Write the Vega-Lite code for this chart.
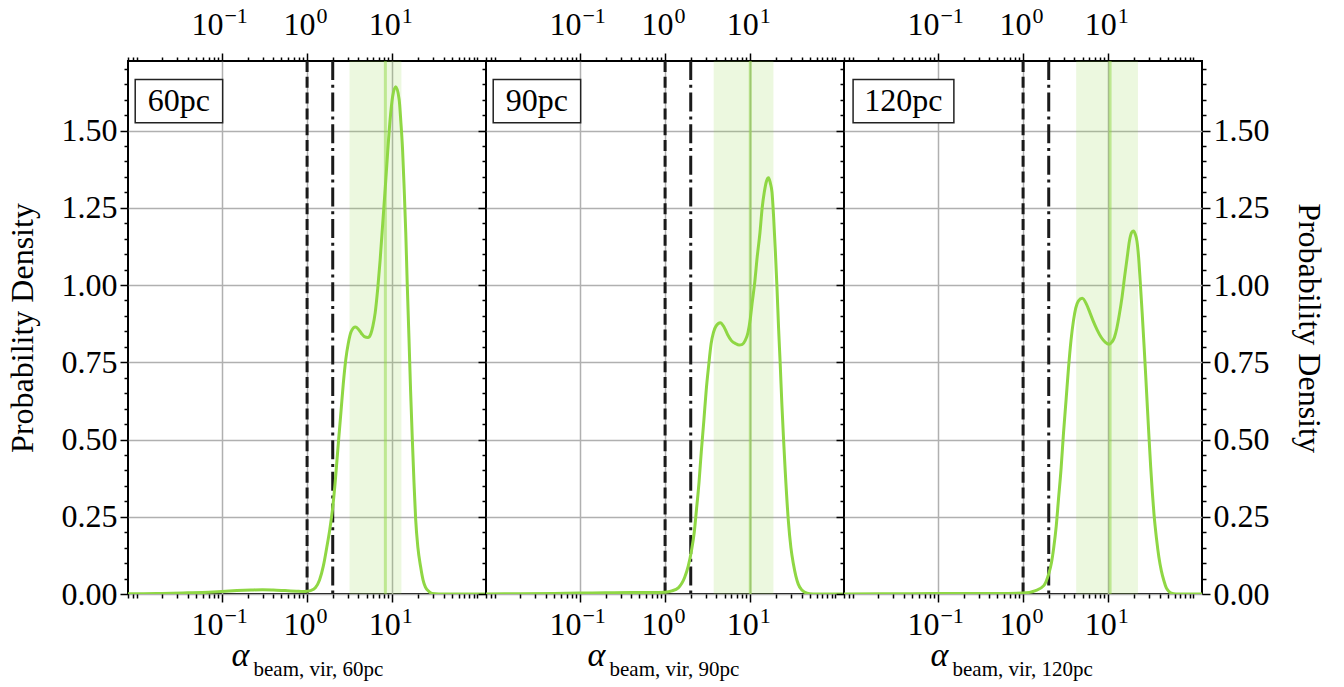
{
  "$schema": "https://vega.github.io/schema/vega-lite/v6.json",
  "padding": {"left": 5, "top": 3, "right": 6, "bottom": 4},
  "background": "white",
  "datasets": {
    "curves": [
      {"panel": "60pc", "alpha": 0.0079, "density": 0.0005},
      {"panel": "60pc", "alpha": 0.012, "density": 0.001},
      {"panel": "60pc", "alpha": 0.02, "density": 0.002},
      {"panel": "60pc", "alpha": 0.04, "density": 0.004},
      {"panel": "60pc", "alpha": 0.07, "density": 0.006},
      {"panel": "60pc", "alpha": 0.1, "density": 0.008},
      {"panel": "60pc", "alpha": 0.15, "density": 0.011},
      {"panel": "60pc", "alpha": 0.22, "density": 0.013},
      {"panel": "60pc", "alpha": 0.3, "density": 0.014},
      {"panel": "60pc", "alpha": 0.4, "density": 0.013},
      {"panel": "60pc", "alpha": 0.55, "density": 0.011},
      {"panel": "60pc", "alpha": 0.75, "density": 0.009},
      {"panel": "60pc", "alpha": 0.9, "density": 0.008},
      {"panel": "60pc", "alpha": 1.0, "density": 0.009},
      {"panel": "60pc", "alpha": 1.1, "density": 0.011},
      {"panel": "60pc", "alpha": 1.25, "density": 0.02},
      {"panel": "60pc", "alpha": 1.4, "density": 0.045},
      {"panel": "60pc", "alpha": 1.55, "density": 0.09},
      {"panel": "60pc", "alpha": 1.7, "density": 0.15},
      {"panel": "60pc", "alpha": 1.85, "density": 0.21},
      {"panel": "60pc", "alpha": 2.0, "density": 0.28},
      {"panel": "60pc", "alpha": 2.15, "density": 0.37},
      {"panel": "60pc", "alpha": 2.33, "density": 0.49},
      {"panel": "60pc", "alpha": 2.5, "density": 0.59},
      {"panel": "60pc", "alpha": 2.66, "density": 0.68},
      {"panel": "60pc", "alpha": 2.85, "density": 0.76},
      {"panel": "60pc", "alpha": 3.04, "density": 0.81},
      {"panel": "60pc", "alpha": 3.3, "density": 0.85},
      {"panel": "60pc", "alpha": 3.69, "density": 0.864},
      {"panel": "60pc", "alpha": 4.0, "density": 0.857},
      {"panel": "60pc", "alpha": 4.33, "density": 0.844},
      {"panel": "60pc", "alpha": 4.7, "density": 0.833},
      {"panel": "60pc", "alpha": 5.18, "density": 0.83},
      {"panel": "60pc", "alpha": 5.6, "density": 0.842},
      {"panel": "60pc", "alpha": 5.92, "density": 0.867},
      {"panel": "60pc", "alpha": 6.3, "density": 0.91},
      {"panel": "60pc", "alpha": 6.76, "density": 0.99},
      {"panel": "60pc", "alpha": 7.2, "density": 1.08},
      {"panel": "60pc", "alpha": 7.73, "density": 1.2},
      {"panel": "60pc", "alpha": 8.3, "density": 1.32},
      {"panel": "60pc", "alpha": 8.83, "density": 1.43},
      {"panel": "60pc", "alpha": 9.4, "density": 1.53},
      {"panel": "60pc", "alpha": 10.1, "density": 1.61},
      {"panel": "60pc", "alpha": 11.0, "density": 1.642},
      {"panel": "60pc", "alpha": 12.05, "density": 1.6},
      {"panel": "60pc", "alpha": 12.6, "density": 1.53},
      {"panel": "60pc", "alpha": 13.2, "density": 1.44},
      {"panel": "60pc", "alpha": 13.8, "density": 1.31},
      {"panel": "60pc", "alpha": 14.4, "density": 1.17},
      {"panel": "60pc", "alpha": 15.0, "density": 1.0},
      {"panel": "60pc", "alpha": 15.7, "density": 0.83},
      {"panel": "60pc", "alpha": 16.4, "density": 0.66},
      {"panel": "60pc", "alpha": 17.2, "density": 0.5},
      {"panel": "60pc", "alpha": 18.0, "density": 0.36},
      {"panel": "60pc", "alpha": 18.8, "density": 0.244},
      {"panel": "60pc", "alpha": 20.0, "density": 0.15},
      {"panel": "60pc", "alpha": 21.5, "density": 0.089},
      {"panel": "60pc", "alpha": 23.0, "density": 0.045},
      {"panel": "60pc", "alpha": 24.5, "density": 0.022},
      {"panel": "60pc", "alpha": 27.0, "density": 0.008},
      {"panel": "60pc", "alpha": 29.3, "density": 0.002},
      {"panel": "60pc", "alpha": 35.0, "density": 0.0003},
      {"panel": "60pc", "alpha": 50.0, "density": 0},
      {"panel": "60pc", "alpha": 126.0, "density": 0},

      {"panel": "90pc", "alpha": 0.0079, "density": 0.0003},
      {"panel": "90pc", "alpha": 0.02, "density": 0.001},
      {"panel": "90pc", "alpha": 0.05, "density": 0.002},
      {"panel": "90pc", "alpha": 0.1, "density": 0.003},
      {"panel": "90pc", "alpha": 0.2, "density": 0.004},
      {"panel": "90pc", "alpha": 0.4, "density": 0.005},
      {"panel": "90pc", "alpha": 0.7, "density": 0.005},
      {"panel": "90pc", "alpha": 1.0, "density": 0.006},
      {"panel": "90pc", "alpha": 1.2, "density": 0.01},
      {"panel": "90pc", "alpha": 1.43, "density": 0.02},
      {"panel": "90pc", "alpha": 1.7, "density": 0.054},
      {"panel": "90pc", "alpha": 1.87, "density": 0.09},
      {"panel": "90pc", "alpha": 2.04, "density": 0.14},
      {"panel": "90pc", "alpha": 2.2, "density": 0.2},
      {"panel": "90pc", "alpha": 2.33, "density": 0.27},
      {"panel": "90pc", "alpha": 2.5, "density": 0.36},
      {"panel": "90pc", "alpha": 2.66, "density": 0.46},
      {"panel": "90pc", "alpha": 2.85, "density": 0.56},
      {"panel": "90pc", "alpha": 3.04, "density": 0.66},
      {"panel": "90pc", "alpha": 3.25, "density": 0.74},
      {"panel": "90pc", "alpha": 3.47, "density": 0.81},
      {"panel": "90pc", "alpha": 3.7, "density": 0.847},
      {"panel": "90pc", "alpha": 3.96, "density": 0.867},
      {"panel": "90pc", "alpha": 4.45, "density": 0.878},
      {"panel": "90pc", "alpha": 4.9, "density": 0.865},
      {"panel": "90pc", "alpha": 5.41, "density": 0.84},
      {"panel": "90pc", "alpha": 6.0, "density": 0.82},
      {"panel": "90pc", "alpha": 6.76, "density": 0.81},
      {"panel": "90pc", "alpha": 7.4, "density": 0.806},
      {"panel": "90pc", "alpha": 8.08, "density": 0.808},
      {"panel": "90pc", "alpha": 8.7, "density": 0.82},
      {"panel": "90pc", "alpha": 9.4, "density": 0.846},
      {"panel": "90pc", "alpha": 10.0, "density": 0.89},
      {"panel": "90pc", "alpha": 10.5, "density": 0.94},
      {"panel": "90pc", "alpha": 11.3, "density": 1.01},
      {"panel": "90pc", "alpha": 12.05, "density": 1.09},
      {"panel": "90pc", "alpha": 13.0, "density": 1.17},
      {"panel": "90pc", "alpha": 13.8, "density": 1.25},
      {"panel": "90pc", "alpha": 14.6, "density": 1.3},
      {"panel": "90pc", "alpha": 15.5, "density": 1.336},
      {"panel": "90pc", "alpha": 16.4, "density": 1.347},
      {"panel": "90pc", "alpha": 17.2, "density": 1.33},
      {"panel": "90pc", "alpha": 18.0, "density": 1.3},
      {"panel": "90pc", "alpha": 18.8, "density": 1.22},
      {"panel": "90pc", "alpha": 19.7, "density": 1.11},
      {"panel": "90pc", "alpha": 20.6, "density": 0.99},
      {"panel": "90pc", "alpha": 21.5, "density": 0.86},
      {"panel": "90pc", "alpha": 22.5, "density": 0.74},
      {"panel": "90pc", "alpha": 23.5, "density": 0.614},
      {"panel": "90pc", "alpha": 24.6, "density": 0.5},
      {"panel": "90pc", "alpha": 25.7, "density": 0.4},
      {"panel": "90pc", "alpha": 28.0, "density": 0.237},
      {"panel": "90pc", "alpha": 30.0, "density": 0.15},
      {"panel": "90pc", "alpha": 32.1, "density": 0.097},
      {"panel": "90pc", "alpha": 34.3, "density": 0.058},
      {"panel": "90pc", "alpha": 36.6, "density": 0.032},
      {"panel": "90pc", "alpha": 40.0, "density": 0.014},
      {"panel": "90pc", "alpha": 43.8, "density": 0.005},
      {"panel": "90pc", "alpha": 50.0, "density": 0.001},
      {"panel": "90pc", "alpha": 60.0, "density": 0},
      {"panel": "90pc", "alpha": 126.0, "density": 0},

      {"panel": "120pc", "alpha": 0.0079, "density": 0.0003},
      {"panel": "120pc", "alpha": 0.05, "density": 0.001},
      {"panel": "120pc", "alpha": 0.2, "density": 0.002},
      {"panel": "120pc", "alpha": 0.5, "density": 0.002},
      {"panel": "120pc", "alpha": 1.0, "density": 0.003},
      {"panel": "120pc", "alpha": 1.4, "density": 0.011},
      {"panel": "120pc", "alpha": 1.75, "density": 0.027},
      {"panel": "120pc", "alpha": 2.0, "density": 0.065},
      {"panel": "120pc", "alpha": 2.15, "density": 0.1},
      {"panel": "120pc", "alpha": 2.29, "density": 0.15},
      {"panel": "120pc", "alpha": 2.45, "density": 0.22},
      {"panel": "120pc", "alpha": 2.61, "density": 0.31},
      {"panel": "120pc", "alpha": 2.8, "density": 0.41},
      {"panel": "120pc", "alpha": 2.98, "density": 0.52},
      {"panel": "120pc", "alpha": 3.2, "density": 0.63},
      {"panel": "120pc", "alpha": 3.41, "density": 0.73},
      {"panel": "120pc", "alpha": 3.65, "density": 0.82},
      {"panel": "120pc", "alpha": 3.9, "density": 0.884},
      {"panel": "120pc", "alpha": 4.15, "density": 0.925},
      {"panel": "120pc", "alpha": 4.45, "density": 0.948},
      {"panel": "120pc", "alpha": 4.95, "density": 0.957},
      {"panel": "120pc", "alpha": 5.56, "density": 0.9375},
      {"panel": "120pc", "alpha": 6.1, "density": 0.91},
      {"panel": "120pc", "alpha": 6.64, "density": 0.884},
      {"panel": "120pc", "alpha": 7.4, "density": 0.855},
      {"panel": "120pc", "alpha": 8.29, "density": 0.83},
      {"panel": "120pc", "alpha": 9.2, "density": 0.815},
      {"panel": "120pc", "alpha": 10.2, "density": 0.808},
      {"panel": "120pc", "alpha": 11.0, "density": 0.815},
      {"panel": "120pc", "alpha": 11.8, "density": 0.83},
      {"panel": "120pc", "alpha": 12.6, "density": 0.86},
      {"panel": "120pc", "alpha": 13.5, "density": 0.905},
      {"panel": "120pc", "alpha": 14.5, "density": 0.96},
      {"panel": "120pc", "alpha": 15.5, "density": 1.024},
      {"panel": "120pc", "alpha": 16.6, "density": 1.085},
      {"panel": "120pc", "alpha": 17.7, "density": 1.142},
      {"panel": "120pc", "alpha": 18.8, "density": 1.17},
      {"panel": "120pc", "alpha": 19.8, "density": 1.175},
      {"panel": "120pc", "alpha": 20.7, "density": 1.165},
      {"panel": "120pc", "alpha": 21.7, "density": 1.142},
      {"panel": "120pc", "alpha": 22.7, "density": 1.09},
      {"panel": "120pc", "alpha": 23.7, "density": 1.013},
      {"panel": "120pc", "alpha": 25.0, "density": 0.91},
      {"panel": "120pc", "alpha": 26.4, "density": 0.797},
      {"panel": "120pc", "alpha": 27.6, "density": 0.7},
      {"panel": "120pc", "alpha": 28.8, "density": 0.603},
      {"panel": "120pc", "alpha": 30.1, "density": 0.505},
      {"panel": "120pc", "alpha": 31.5, "density": 0.41},
      {"panel": "120pc", "alpha": 32.9, "density": 0.33},
      {"panel": "120pc", "alpha": 34.4, "density": 0.259},
      {"panel": "120pc", "alpha": 36.8, "density": 0.18},
      {"panel": "120pc", "alpha": 39.3, "density": 0.119},
      {"panel": "120pc", "alpha": 42.0, "density": 0.075},
      {"panel": "120pc", "alpha": 45.0, "density": 0.043},
      {"panel": "120pc", "alpha": 48.0, "density": 0.02},
      {"panel": "120pc", "alpha": 51.3, "density": 0.009},
      {"panel": "120pc", "alpha": 55.0, "density": 0.003},
      {"panel": "120pc", "alpha": 62.0, "density": 0},
      {"panel": "120pc", "alpha": 126.0, "density": 0}
    ],
    "bands": [
      {"panel": "60pc", "lo": 3.15, "hi": 12.8, "med": 8.3},
      {"panel": "90pc", "lo": 3.72, "hi": 18.7, "med": 10.0},
      {"panel": "120pc", "lo": 4.2, "hi": 22.3, "med": 10.5}
    ],
    "refs": [
      {"kind": "dashed", "value": 1},
      {"kind": "dashdot", "value": 2}
    ],
    "labels": [
      {"panel": "60pc", "label": "60pc"},
      {"panel": "90pc", "label": "90pc"},
      {"panel": "120pc", "label": "120pc"}
    ]
  },
  "spacing": 0,
  "bounds": "flush",
  "hconcat": [
    {
      "width": 358, "height": 533,
      "resolve": {"axis": {"x": "independent", "y": "independent"}},
      "layer": [
        {
          "data": {"name": "bands"},
          "transform": [{"filter": "datum.panel == '60pc'"}],
          "mark": {"type": "rect", "fill": "#8fd744", "opacity": 0.17, "clip": true},
          "encoding": {
            "x": {"field": "lo", "type": "quantitative", "scale": {"type": "log", "domain": [0.0079, 126], "nice": false},
              "axis": {"orient": "bottom", "values": [0.1, 1, 10], "grid": true, "labelExpr": "'10'", "labelAlign": "right", "labelBaseline": "alphabetic", "labelPadding": 32, "labelOffset": {"condition": {"test": "datum.value < 0.5", "value": 1}, "value": 8}, "title": "α", "titleFontStyle": "italic", "titleFontSize": 34, "titleAlign": "center", "titleBaseline": "alphabetic", "titleX": 112, "titleY": 71}},
            "x2": {"field": "hi"},
            "y": {"datum": 0, "type": "quantitative", "scale": {"domain": [0, 1.725], "nice": false},
              "axis": {"orient": "left", "values": [0.05,0.1,0.15,0.2,0.3,0.35,0.4,0.45,0.55,0.6,0.65,0.7,0.8,0.85,0.9,0.95,1.05,1.1,1.15,1.2,1.3,1.35,1.4,1.45,1.55,1.6,1.65,1.7], "labels": false, "grid": false, "tickSize": 4, "title": null}},
            "y2": {"datum": 1.725}
          }
        },
        {
          "data": {"name": "bands"},
          "transform": [{"filter": "datum.panel == '60pc'"}],
          "mark": {"type": "rule", "color": "#8fd744", "opacity": 0.5, "strokeWidth": 3},
          "encoding": {
            "x": {"field": "med", "type": "quantitative", "scale": {"type": "log", "domain": [0.0079, 126], "nice": false},
              "axis": {"orient": "bottom", "values": [0.008,0.009,0.01,0.02,0.03,0.04,0.05,0.06,0.07,0.08,0.09,0.2,0.3,0.4,0.5,0.6,0.7,0.8,0.9,2,3,4,5,6,7,8,9,20,30,40,50,60,70,80,90,100], "labels": false, "grid": false, "tickSize": 4, "title": "beam, vir, 60pc", "titleFontSize": 21, "titleAlign": "left", "titleBaseline": "alphabetic", "titleX": 125, "titleY": 81}}
          }
        },
        {
          "data": {"name": "refs"},
          "mark": {"type": "rule", "color": "#1a1a1a", "strokeWidth": 3},
          "encoding": {
            "x": {"field": "value", "type": "quantitative", "scale": {"type": "log", "domain": [0.0079, 126], "nice": false},
              "axis": {"orient": "top", "values": [0.1, 1, 10], "grid": false, "labelExpr": "'10'", "labelAlign": "right", "labelBaseline": "alphabetic", "labelPadding": 19, "labelOffset": {"condition": {"test": "datum.value < 0.5", "value": 1}, "value": 8}, "title": null}},
            "strokeDash": {"field": "kind", "type": "nominal", "scale": {"domain": ["dashed", "dashdot"], "range": [[11, 4.8], [19, 4.8, 3, 4.8]]}, "legend": null}
          }
        },
        {
          "data": {"name": "curves"},
          "transform": [{"filter": "datum.panel == '60pc'"}],
          "mark": {"type": "line", "color": "#8fd744", "strokeWidth": 3, "interpolate": "monotone", "clip": true},
          "encoding": {
            "x": {"field": "alpha", "type": "quantitative", "scale": {"type": "log", "domain": [0.0079, 126], "nice": false},
              "axis": {"orient": "top", "values": [0.008,0.009,0.01,0.02,0.03,0.04,0.05,0.06,0.07,0.08,0.09,0.2,0.3,0.4,0.5,0.6,0.7,0.8,0.9,2,3,4,5,6,7,8,9,20,30,40,50,60,70,80,90,100], "labels": false, "grid": false, "tickSize": 4, "title": null}},
            "y": {"field": "density", "type": "quantitative", "scale": {"domain": [0, 1.725], "nice": false},
              "axis": {"orient": "left", "values": [0, 0.25, 0.5, 0.75, 1, 1.25, 1.5], "format": ".2f", "grid": true, "title": "Probability Density", "titlePadding": 22}}
          }
        },
        {
          "data": {"name": "labels"},
          "transform": [{"filter": "datum.panel == '60pc'"}],
          "mark": {"type": "rect", "fill": "white", "stroke": "#222222", "strokeWidth": 1.5},
          "encoding": {
            "x": {"datum": 0.0096, "type": "quantitative", "scale": {"type": "log", "domain": [0.0079, 126], "nice": false},
              "axis": {"orient": "bottom", "values": [0.1, 1, 10], "grid": false, "tickOpacity": 0, "labelExpr": "datum.value < 0.5 ? '−1' : datum.value < 5 ? '0' : '1'", "labelFontSize": 22, "labelAlign": "left", "labelBaseline": "alphabetic", "labelPadding": 20, "labelOffset": {"condition": {"test": "datum.value < 0.5", "value": 2}, "value": 9}, "title": null}},
            "x2": {"datum": 0.102},
            "y": {"datum": 1.665, "type": "quantitative", "scale": {"domain": [0, 1.725], "nice": false}, "axis": null},
            "y2": {"datum": 1.525}
          }
        },
        {
          "data": {"name": "labels"},
          "transform": [{"filter": "datum.panel == '60pc'"}],
          "mark": {"type": "text", "font": "Liberation Serif", "fontSize": 32, "color": "black", "align": "center", "baseline": "middle"},
          "encoding": {
            "x": {"datum": 0.0313, "type": "quantitative", "scale": {"type": "log", "domain": [0.0079, 126], "nice": false},
              "axis": {"orient": "top", "values": [0.1, 1, 10], "grid": false, "tickOpacity": 0, "labelExpr": "datum.value < 0.5 ? '−1' : datum.value < 5 ? '0' : '1'", "labelFontSize": 22, "labelAlign": "left", "labelBaseline": "alphabetic", "labelPadding": 31, "labelOffset": {"condition": {"test": "datum.value < 0.5", "value": 2}, "value": 9}, "title": null}},
            "y": {"datum": 1.595, "type": "quantitative", "scale": {"domain": [0, 1.725], "nice": false}, "axis": null},
            "text": {"field": "label"}
          }
        }
      ]
    },
    {
      "width": 358, "height": 533,
      "resolve": {"axis": {"x": "independent", "y": "independent"}},
      "layer": [
        {
          "data": {"name": "bands"},
          "transform": [{"filter": "datum.panel == '90pc'"}],
          "mark": {"type": "rect", "fill": "#8fd744", "opacity": 0.17, "clip": true},
          "encoding": {
            "x": {"field": "lo", "type": "quantitative", "scale": {"type": "log", "domain": [0.0079, 126], "nice": false},
              "axis": {"orient": "bottom", "values": [0.1, 1, 10], "grid": true, "labelExpr": "'10'", "labelAlign": "right", "labelBaseline": "alphabetic", "labelPadding": 32, "labelOffset": {"condition": {"test": "datum.value < 0.5", "value": 1}, "value": 8}, "title": "α", "titleFontStyle": "italic", "titleFontSize": 34, "titleAlign": "center", "titleBaseline": "alphabetic", "titleX": 110, "titleY": 71}},
            "x2": {"field": "hi"},
            "y": {"datum": 0, "type": "quantitative", "scale": {"domain": [0, 1.725], "nice": false},
              "axis": {"orient": "left", "values": [0.05,0.1,0.15,0.2,0.3,0.35,0.4,0.45,0.55,0.6,0.65,0.7,0.8,0.85,0.9,0.95,1.05,1.1,1.15,1.2,1.3,1.35,1.4,1.45,1.55,1.6,1.65,1.7], "labels": false, "grid": false, "tickSize": 4, "title": null}},
            "y2": {"datum": 1.725}
          }
        },
        {
          "data": {"name": "bands"},
          "transform": [{"filter": "datum.panel == '90pc'"}],
          "mark": {"type": "rule", "color": "#8fd744", "opacity": 0.5, "strokeWidth": 3},
          "encoding": {
            "x": {"field": "med", "type": "quantitative", "scale": {"type": "log", "domain": [0.0079, 126], "nice": false},
              "axis": {"orient": "bottom", "values": [0.008,0.009,0.01,0.02,0.03,0.04,0.05,0.06,0.07,0.08,0.09,0.2,0.3,0.4,0.5,0.6,0.7,0.8,0.9,2,3,4,5,6,7,8,9,20,30,40,50,60,70,80,90,100], "labels": false, "grid": false, "tickSize": 4, "title": "beam, vir, 90pc", "titleFontSize": 21, "titleAlign": "left", "titleBaseline": "alphabetic", "titleX": 123, "titleY": 81}}
          }
        },
        {
          "data": {"name": "refs"},
          "mark": {"type": "rule", "color": "#1a1a1a", "strokeWidth": 3},
          "encoding": {
            "x": {"field": "value", "type": "quantitative", "scale": {"type": "log", "domain": [0.0079, 126], "nice": false},
              "axis": {"orient": "top", "values": [0.1, 1, 10], "grid": false, "labelExpr": "'10'", "labelAlign": "right", "labelBaseline": "alphabetic", "labelPadding": 19, "labelOffset": {"condition": {"test": "datum.value < 0.5", "value": 1}, "value": 8}, "title": null}},
            "strokeDash": {"field": "kind", "type": "nominal", "scale": {"domain": ["dashed", "dashdot"], "range": [[11, 4.8], [19, 4.8, 3, 4.8]]}, "legend": null}
          }
        },
        {
          "data": {"name": "curves"},
          "transform": [{"filter": "datum.panel == '90pc'"}],
          "mark": {"type": "line", "color": "#8fd744", "strokeWidth": 3, "interpolate": "monotone", "clip": true},
          "encoding": {
            "x": {"field": "alpha", "type": "quantitative", "scale": {"type": "log", "domain": [0.0079, 126], "nice": false},
              "axis": {"orient": "top", "values": [0.008,0.009,0.01,0.02,0.03,0.04,0.05,0.06,0.07,0.08,0.09,0.2,0.3,0.4,0.5,0.6,0.7,0.8,0.9,2,3,4,5,6,7,8,9,20,30,40,50,60,70,80,90,100], "labels": false, "grid": false, "tickSize": 4, "title": null}},
            "y": {"field": "density", "type": "quantitative", "scale": {"domain": [0, 1.725], "nice": false},
              "axis": {"orient": "left", "values": [0, 0.25, 0.5, 0.75, 1, 1.25, 1.5], "labels": false, "grid": true, "title": null}}
          }
        },
        {
          "data": {"name": "labels"},
          "transform": [{"filter": "datum.panel == '90pc'"}],
          "mark": {"type": "rect", "fill": "white", "stroke": "#222222", "strokeWidth": 1.5},
          "encoding": {
            "x": {"datum": 0.0096, "type": "quantitative", "scale": {"type": "log", "domain": [0.0079, 126], "nice": false},
              "axis": {"orient": "bottom", "values": [0.1, 1, 10], "grid": false, "tickOpacity": 0, "labelExpr": "datum.value < 0.5 ? '−1' : datum.value < 5 ? '0' : '1'", "labelFontSize": 22, "labelAlign": "left", "labelBaseline": "alphabetic", "labelPadding": 20, "labelOffset": {"condition": {"test": "datum.value < 0.5", "value": 2}, "value": 9}, "title": null}},
            "x2": {"datum": 0.102},
            "y": {"datum": 1.665, "type": "quantitative", "scale": {"domain": [0, 1.725], "nice": false}, "axis": null},
            "y2": {"datum": 1.525}
          }
        },
        {
          "data": {"name": "labels"},
          "transform": [{"filter": "datum.panel == '90pc'"}],
          "mark": {"type": "text", "font": "Liberation Serif", "fontSize": 32, "color": "black", "align": "center", "baseline": "middle"},
          "encoding": {
            "x": {"datum": 0.0313, "type": "quantitative", "scale": {"type": "log", "domain": [0.0079, 126], "nice": false},
              "axis": {"orient": "top", "values": [0.1, 1, 10], "grid": false, "tickOpacity": 0, "labelExpr": "datum.value < 0.5 ? '−1' : datum.value < 5 ? '0' : '1'", "labelFontSize": 22, "labelAlign": "left", "labelBaseline": "alphabetic", "labelPadding": 31, "labelOffset": {"condition": {"test": "datum.value < 0.5", "value": 2}, "value": 9}, "title": null}},
            "y": {"datum": 1.595, "type": "quantitative", "scale": {"domain": [0, 1.725], "nice": false}, "axis": null},
            "text": {"field": "label"}
          }
        }
      ]
    },
    {
      "width": 358, "height": 533,
      "resolve": {"axis": {"x": "independent", "y": "independent"}},
      "layer": [
        {
          "data": {"name": "bands"},
          "transform": [{"filter": "datum.panel == '120pc'"}],
          "mark": {"type": "rect", "fill": "#8fd744", "opacity": 0.17, "clip": true},
          "encoding": {
            "x": {"field": "lo", "type": "quantitative", "scale": {"type": "log", "domain": [0.0079, 126], "nice": false},
              "axis": {"orient": "bottom", "values": [0.1, 1, 10], "grid": true, "labelExpr": "'10'", "labelAlign": "right", "labelBaseline": "alphabetic", "labelPadding": 32, "labelOffset": {"condition": {"test": "datum.value < 0.5", "value": 1}, "value": 8}, "title": "α", "titleFontStyle": "italic", "titleFontSize": 34, "titleAlign": "center", "titleBaseline": "alphabetic", "titleX": 95, "titleY": 71}},
            "x2": {"field": "hi"},
            "y": {"datum": 0, "type": "quantitative", "scale": {"domain": [0, 1.725], "nice": false},
              "axis": {"orient": "left", "values": [0.05,0.1,0.15,0.2,0.3,0.35,0.4,0.45,0.55,0.6,0.65,0.7,0.8,0.85,0.9,0.95,1.05,1.1,1.15,1.2,1.3,1.35,1.4,1.45,1.55,1.6,1.65,1.7], "labels": false, "grid": false, "tickSize": 4, "title": null}},
            "y2": {"datum": 1.725}
          }
        },
        {
          "data": {"name": "bands"},
          "transform": [{"filter": "datum.panel == '120pc'"}],
          "mark": {"type": "rule", "color": "#8fd744", "opacity": 0.5, "strokeWidth": 3},
          "encoding": {
            "x": {"field": "med", "type": "quantitative", "scale": {"type": "log", "domain": [0.0079, 126], "nice": false},
              "axis": {"orient": "bottom", "values": [0.008,0.009,0.01,0.02,0.03,0.04,0.05,0.06,0.07,0.08,0.09,0.2,0.3,0.4,0.5,0.6,0.7,0.8,0.9,2,3,4,5,6,7,8,9,20,30,40,50,60,70,80,90,100], "labels": false, "grid": false, "tickSize": 4, "title": "beam, vir, 120pc", "titleFontSize": 21, "titleAlign": "left", "titleBaseline": "alphabetic", "titleX": 108, "titleY": 81}}
          }
        },
        {
          "data": {"name": "refs"},
          "mark": {"type": "rule", "color": "#1a1a1a", "strokeWidth": 3},
          "encoding": {
            "x": {"field": "value", "type": "quantitative", "scale": {"type": "log", "domain": [0.0079, 126], "nice": false},
              "axis": {"orient": "top", "values": [0.1, 1, 10], "grid": false, "labelExpr": "'10'", "labelAlign": "right", "labelBaseline": "alphabetic", "labelPadding": 19, "labelOffset": {"condition": {"test": "datum.value < 0.5", "value": 1}, "value": 8}, "title": null}},
            "strokeDash": {"field": "kind", "type": "nominal", "scale": {"domain": ["dashed", "dashdot"], "range": [[11, 4.8], [19, 4.8, 3, 4.8]]}, "legend": null}
          }
        },
        {
          "data": {"name": "curves"},
          "transform": [{"filter": "datum.panel == '120pc'"}],
          "mark": {"type": "line", "color": "#8fd744", "strokeWidth": 3, "interpolate": "monotone", "clip": true},
          "encoding": {
            "x": {"field": "alpha", "type": "quantitative", "scale": {"type": "log", "domain": [0.0079, 126], "nice": false},
              "axis": {"orient": "top", "values": [0.008,0.009,0.01,0.02,0.03,0.04,0.05,0.06,0.07,0.08,0.09,0.2,0.3,0.4,0.5,0.6,0.7,0.8,0.9,2,3,4,5,6,7,8,9,20,30,40,50,60,70,80,90,100], "labels": false, "grid": false, "tickSize": 4, "title": null}},
            "y": {"field": "density", "type": "quantitative", "scale": {"domain": [0, 1.725], "nice": false},
              "axis": {"orient": "left", "values": [0, 0.25, 0.5, 0.75, 1, 1.25, 1.5], "labels": false, "grid": true, "title": null}}
          }
        },
        {
          "data": {"name": "labels"},
          "transform": [{"filter": "datum.panel == '120pc'"}],
          "mark": {"type": "rect", "fill": "white", "stroke": "#222222", "strokeWidth": 1.5},
          "encoding": {
            "x": {"datum": 0.0101, "type": "quantitative", "scale": {"type": "log", "domain": [0.0079, 126], "nice": false},
              "axis": {"orient": "bottom", "values": [0.1, 1, 10], "grid": false, "tickOpacity": 0, "labelExpr": "datum.value < 0.5 ? '−1' : datum.value < 5 ? '0' : '1'", "labelFontSize": 22, "labelAlign": "left", "labelBaseline": "alphabetic", "labelPadding": 20, "labelOffset": {"condition": {"test": "datum.value < 0.5", "value": 2}, "value": 9}, "title": null}},
            "x2": {"datum": 0.154},
            "y": {"datum": 1.665, "type": "quantitative", "scale": {"domain": [0, 1.725], "nice": false},
              "axis": {"orient": "right", "values": [0, 0.25, 0.5, 0.75, 1, 1.25, 1.5], "format": ".2f", "grid": false, "title": "Probability Density", "titleAngle": 90, "titlePadding": 22}},
            "y2": {"datum": 1.525}
          }
        },
        {
          "data": {"name": "labels"},
          "transform": [{"filter": "datum.panel == '120pc'"}],
          "mark": {"type": "text", "font": "Liberation Serif", "fontSize": 32, "color": "black", "align": "center", "baseline": "middle"},
          "encoding": {
            "x": {"datum": 0.0394, "type": "quantitative", "scale": {"type": "log", "domain": [0.0079, 126], "nice": false},
              "axis": {"orient": "top", "values": [0.1, 1, 10], "grid": false, "tickOpacity": 0, "labelExpr": "datum.value < 0.5 ? '−1' : datum.value < 5 ? '0' : '1'", "labelFontSize": 22, "labelAlign": "left", "labelBaseline": "alphabetic", "labelPadding": 31, "labelOffset": {"condition": {"test": "datum.value < 0.5", "value": 2}, "value": 9}, "title": null}},
            "y": {"datum": 1.595, "type": "quantitative", "scale": {"domain": [0, 1.725], "nice": false},
              "axis": {"orient": "right", "values": [0.05,0.1,0.15,0.2,0.3,0.35,0.4,0.45,0.55,0.6,0.65,0.7,0.8,0.85,0.9,0.95,1.05,1.1,1.15,1.2,1.3,1.35,1.4,1.45,1.55,1.6,1.65,1.7], "labels": false, "grid": false, "tickSize": 4, "title": null}},
            "text": {"field": "label"}
          }
        }
      ]
    }
  ],
  "config": {
    "font": "Liberation Serif",
    "view": {"stroke": "black", "strokeWidth": 2},
    "axis": {
      "domain": false,
      "labelFont": "Liberation Serif", "labelFontSize": 32, "labelColor": "black", "labelPadding": 3,
      "tickColor": "black", "tickWidth": 1.5, "tickSize": 8,
      "gridColor": "#b0b0b0", "gridWidth": 1.5, "gridOpacity": 1,
      "titleFont": "Liberation Serif", "titleFontWeight": "normal", "titleColor": "black", "titleFontSize": 32
    }
  }
}
